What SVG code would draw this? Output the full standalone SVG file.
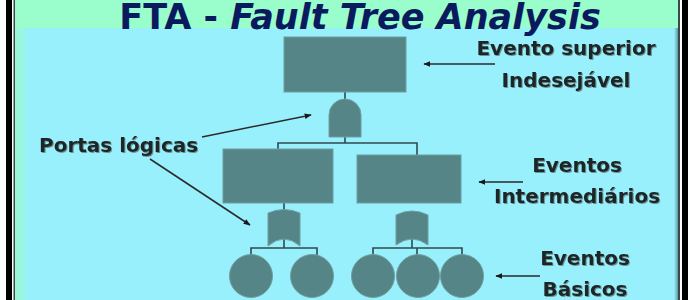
<svg xmlns="http://www.w3.org/2000/svg" width="696" height="300" viewBox="0 0 696 300">
<defs>
<linearGradient id="lg" x1="0" y1="0" x2="1" y2="0">
<stop offset="0" stop-color="#99fdcc"/>
<stop offset="1" stop-color="#99f0fd"/>
</linearGradient>
<linearGradient id="rg" x1="0" y1="0" x2="1" y2="0">
<stop offset="0" stop-color="#99f0fd"/>
<stop offset="1" stop-color="#5f9aa3"/>
</linearGradient>
<marker id="ah" viewBox="0 0 10 10" refX="9" refY="5" markerWidth="7" markerHeight="7" orient="auto-start-reverse" markerUnits="userSpaceOnUse">
<path d="M0,1 L10,5 L0,9 z" fill="#1a1a1a"/>
</marker>
<filter id="sh" x="-5%" y="-20%" width="110%" height="140%">
<feDropShadow dx="1" dy="1" stdDeviation="0.6" flood-color="#5a6a6a" flood-opacity="0.7"/>
</filter>
</defs>
<style>
.node{fill:#568587;stroke:#6e9ea0;stroke-width:1}
.wire{fill:none;stroke:#2e4a4c;stroke-width:1.6}
.ptr{fill:none;stroke:#2a2a2a;stroke-width:1.5}
.lbl{font-family:"DejaVu Sans",Verdana,sans-serif;font-weight:bold;font-size:20px;fill:#1a2525}
.title{font-family:"DejaVu Sans",Verdana,sans-serif;font-weight:bold;font-size:35px;fill:#0a1a5e}
</style>
<rect x="0" y="0" width="696" height="300" fill="#ffffff"/>
<rect x="6" y="0" width="6" height="300" fill="#000000"/>
<rect x="682" y="0" width="6" height="300" fill="#000000"/>
<rect x="13.5" y="0" width="1.5" height="300" fill="#3a4a4a"/>
<rect x="678" y="0" width="2" height="300" fill="#3a4a4a"/>
<rect x="15" y="0" width="663" height="300" fill="#99fdcc"/>
<rect x="15" y="28" width="14" height="272" fill="url(#lg)"/>
<rect x="28" y="28" width="650" height="272" fill="#99f0fd"/>
<rect x="674" y="28" width="4" height="272" fill="url(#rg)"/>
<text class="title" x="360" y="29" text-anchor="middle">FTA - <tspan font-style="italic">Fault Tree Analysis</tspan></text>
<g id="connectors">
<path class="wire" d="M345,92 V100"/>
<path class="wire" d="M345,137 V143 M278,149 V143 H417 V155"/>
<path class="wire" d="M284,203 V214"/>
<path class="wire" d="M284,236 V248 M251,258 V248 H317 V258"/>
<path class="wire" d="M412,238 V248 M373,258 V248 H462 V258 M417,248 V258"/>
<line class="ptr" x1="495" y1="64" x2="424" y2="64" marker-end="url(#ah)"/>
<line class="ptr" x1="523" y1="182" x2="479" y2="182" marker-end="url(#ah)"/>
<line class="ptr" x1="540" y1="276" x2="496" y2="276" marker-end="url(#ah)"/>
<line class="ptr" x1="202" y1="137" x2="311" y2="115" marker-end="url(#ah)"/>
<line class="ptr" x1="150" y1="159" x2="250" y2="225" marker-end="url(#ah)"/>
</g>
<g id="top-event"><rect class="node" x="284" y="37" width="122" height="55"/></g>
<g id="and-gate"><path class="node" d="M329,137 V115 A16,16 0 0 1 361,115 V137 Z"/></g>
<g id="intermediate-1"><rect class="node" x="223" y="149" width="110" height="54"/></g>
<g id="intermediate-2"><rect class="node" x="357" y="155" width="104" height="48"/></g>
<g id="or-gate-1"><path class="node" d="M268,213 Q284,206 300,213 V246 Q284,232 268,246 Z"/></g>
<g id="or-gate-2"><path class="node" d="M396,215 Q412,207 428,215 V245 Q412,233 396,245 Z"/></g>
<g id="basic-1"><circle class="node" cx="251" cy="276" r="21.5"/></g>
<g id="basic-2"><circle class="node" cx="312" cy="276" r="21.5"/></g>
<g id="basic-3"><circle class="node" cx="373" cy="276" r="21.5"/></g>
<g id="basic-4"><circle class="node" cx="418" cy="276" r="21.5"/></g>
<g id="basic-5"><circle class="node" cx="462" cy="276" r="21.5"/></g>
<g id="labels" filter="url(#sh)">
<text class="lbl" x="566" y="55" text-anchor="middle">Evento superior</text>
<text class="lbl" x="566" y="87" text-anchor="middle">Indesejável</text>
<text class="lbl" x="577" y="172" text-anchor="middle">Eventos</text>
<text class="lbl" x="577" y="203" text-anchor="middle">Intermediários</text>
<text class="lbl" x="585" y="265" text-anchor="middle">Eventos</text>
<text class="lbl" x="585" y="296" text-anchor="middle">Básicos</text>
<text class="lbl" x="39" y="152">Portas lógicas</text>
</g>
</svg>
